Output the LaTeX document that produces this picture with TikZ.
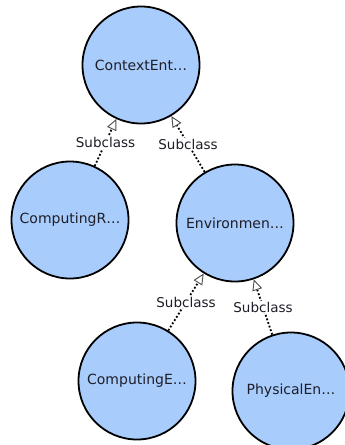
\documentclass[tikz,border=0pt]{standalone}
\usepackage{fontspec}
\setsansfont{DejaVu Sans}
\usetikzlibrary{arrows.meta}
\definecolor{classblue}{RGB}{168,204,252}
\definecolor{classtext}{RGB}{30,30,40}
\tikzset{
  classnode/.style = {circle, draw=black, line width=1.8pt, fill=classblue, minimum size=117pt, inner sep=0pt, text=classtext, font=\sffamily\fontsize{14}{16}\selectfont},
  subclass/.style = {line width=1.8pt, dotted, -{Triangle[open, length=11pt, width=10pt, line width=0.9pt, color=black!70, line cap=butt]}},
  edgelabel/.style = {fill=white, inner sep=1pt, text=classtext, font=\sffamily\fontsize{13.5}{15}\selectfont},
}
\begin{document}
\begin{tikzpicture}[x=1pt, y=-1pt]
\useasboundingbox (0,0) rectangle (345,445);
\clip (0,0) rectangle (345,445);
\node [classnode] (context) at (141,65) {ContextEnt…};
\node [classnode] (computingr) at (70,220) {ComputingR…};
\node [classnode] (environment) at (235,223) {Environmen…};
\node [classnode] (computinge) at (137,381) {ComputingE…};
\node [classnode] (physical) at (291,391) {PhysicalEn…};
% subclass links point from child to parent
\draw [subclass] (computingr) -- (context) node [edgelabel, midway] {Subclass};
\draw [subclass] (environment) -- (context) node [edgelabel, midway] {Subclass};
\draw [subclass] (computinge) -- (environment) node [edgelabel, midway] {Subclass};
\draw [subclass] (physical) -- (environment) node [edgelabel, midway] {Subclass};
\end{tikzpicture}
\end{document}
